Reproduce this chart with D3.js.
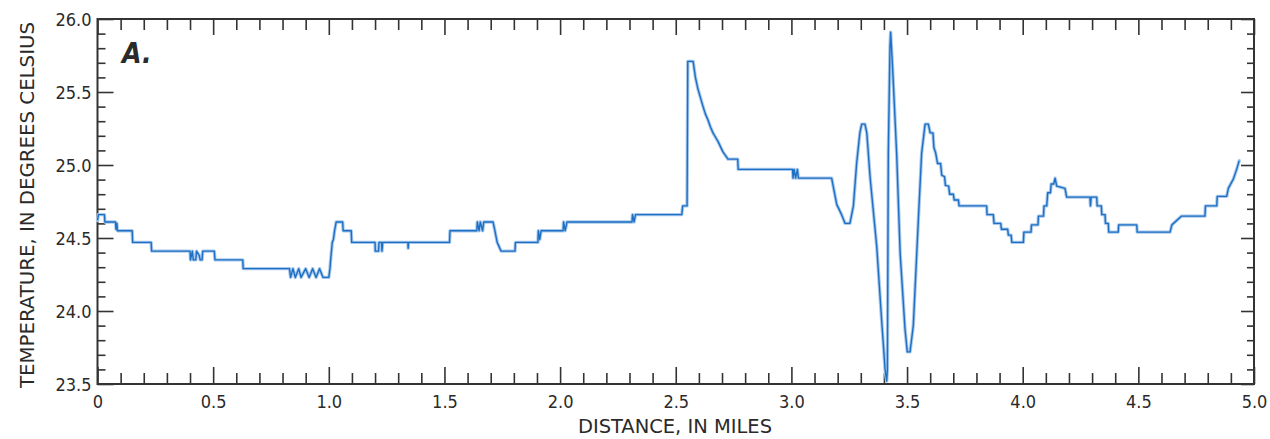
<!DOCTYPE html>
<html>
<head>
<meta charset="utf-8">
<script src="https://cdn.jsdelivr.net/npm/d3@7"></script>
<style>
  html, body { margin: 0; padding: 0; background: #fff; }
  svg { display: block; }
</style>
</head>
<body>
<svg id="chart" width="1270" height="439"></svg>
<script>
// ---- data ----
const distance = [
  0.000, 0.004, 0.030, 0.032, 0.078, 0.080, 0.084, 0.086, 0.150, 0.152,
  0.232, 0.234, 0.400, 0.402, 0.410, 0.414, 0.425, 0.428, 0.440, 0.444,
  0.452, 0.455, 0.505, 0.508, 0.628, 0.630, 0.830, 0.835, 0.845, 0.855,
  0.870, 0.880, 0.900, 0.915, 0.930, 0.945, 0.960, 0.975, 1.000, 1.005,
  1.008, 1.015, 1.020, 1.025, 1.032, 1.060, 1.062, 1.097, 1.099, 1.200,
  1.201, 1.215, 1.217, 1.228, 1.230, 1.233, 1.342, 1.343, 1.345, 1.522,
  1.524, 1.640, 1.642, 1.650, 1.655, 1.665, 1.670, 1.710, 1.718, 1.728,
  1.745, 1.805, 1.807, 1.904, 1.906, 1.912, 1.918, 2.013, 2.015, 2.022,
  2.030, 2.311, 2.313, 2.320, 2.326, 2.526, 2.530, 2.549, 2.552, 2.575,
  2.585, 2.596, 2.607, 2.618, 2.628, 2.639, 2.650, 2.661, 2.672, 2.683,
  2.704, 2.726, 2.768, 2.770, 3.005, 3.007, 3.012, 3.018, 3.026, 3.030,
  3.174, 3.180, 3.196, 3.217, 3.232, 3.253, 3.268, 3.282, 3.296, 3.304,
  3.318, 3.326, 3.340, 3.369, 3.390, 3.405, 3.412, 3.415, 3.419, 3.426,
  3.429, 3.438, 3.455, 3.470, 3.491, 3.501, 3.513, 3.527, 3.549, 3.563,
  3.578, 3.592, 3.600, 3.612, 3.616, 3.624, 3.632, 3.645, 3.650, 3.662,
  3.666, 3.680, 3.684, 3.700, 3.704, 3.722, 3.725, 3.844, 3.846, 3.873,
  3.876, 3.905, 3.908, 3.935, 3.938, 3.950, 3.953, 4.003, 4.005, 4.036,
  4.038, 4.066, 4.068, 4.090, 4.092, 4.104, 4.108, 4.120, 4.123, 4.134,
  4.140, 4.147, 4.183, 4.190, 4.291, 4.293, 4.296, 4.320, 4.322, 4.340,
  4.342, 4.356, 4.358, 4.370, 4.372, 4.413, 4.415, 4.493, 4.495, 4.637,
  4.645, 4.687, 4.788, 4.790, 4.839, 4.841, 4.882, 4.889, 4.911, 4.925,
  4.936
];
const temperature = [
  24.62, 24.66, 24.66, 24.61, 24.61, 24.56, 24.60, 24.55, 24.55, 24.47,
  24.47, 24.41, 24.41, 24.35, 24.41, 24.35, 24.35, 24.41, 24.38, 24.35,
  24.35, 24.41, 24.41, 24.35, 24.35, 24.29, 24.29, 24.23, 24.29, 24.23,
  24.29, 24.23, 24.29, 24.23, 24.29, 24.23, 24.29, 24.23, 24.23, 24.29,
  24.35, 24.47, 24.49, 24.55, 24.61, 24.61, 24.55, 24.55, 24.47, 24.47,
  24.41, 24.41, 24.47, 24.47, 24.41, 24.47, 24.47, 24.43, 24.47, 24.47,
  24.55, 24.55, 24.61, 24.55, 24.61, 24.55, 24.61, 24.61, 24.55, 24.47,
  24.41, 24.41, 24.47, 24.47, 24.55, 24.49, 24.55, 24.55, 24.61, 24.55,
  24.61, 24.61, 24.66, 24.61, 24.66, 24.66, 24.72, 24.72, 25.71, 25.71,
  25.60, 25.52, 25.46, 25.40, 25.35, 25.31, 25.26, 25.22, 25.19, 25.16,
  25.09, 25.04, 25.04, 24.97, 24.97, 24.91, 24.97, 24.91, 24.97, 24.91,
  24.91, 24.86, 24.73, 24.66, 24.60, 24.60, 24.72, 25.01, 25.22, 25.28,
  25.28, 25.22, 24.92, 24.44, 23.94, 23.60, 23.52, 23.60, 25.08, 25.80,
  25.91, 25.65, 25.08, 24.40, 23.88, 23.72, 23.72, 23.90, 24.63, 25.08,
  25.28, 25.28, 25.22, 25.22, 25.12, 25.08, 25.01, 25.01, 24.93, 24.92,
  24.86, 24.855, 24.80, 24.80, 24.76, 24.76, 24.72, 24.72, 24.66, 24.66,
  24.60, 24.60, 24.56, 24.56, 24.52, 24.52, 24.47, 24.47, 24.54, 24.54,
  24.59, 24.59, 24.65, 24.65, 24.72, 24.72, 24.81, 24.81, 24.87, 24.87,
  24.91, 24.855, 24.84, 24.78, 24.78, 24.72, 24.78, 24.78, 24.72, 24.72,
  24.66, 24.66, 24.60, 24.60, 24.54, 24.54, 24.59, 24.59, 24.54, 24.54,
  24.59, 24.65, 24.65, 24.72, 24.72, 24.785, 24.785, 24.84, 24.905, 24.97,
  25.03
];
const xTickLabels = ["0", "0.5", "1.0", "1.5", "2.0", "2.5", "3.0", "3.5", "4.0", "4.5", "5.0"];
const yTickLabels = ["23.5", "24.0", "24.5", "25.0", "25.5", "26.0"];
const xTitle = "DISTANCE, IN MILES";
const yTitle = "TEMPERATURE, IN DEGREES CELSIUS";
const panelLabel = "A.";

// ---- layout ----
const svg = d3.select("#chart");
const L = 97.5, R = 1254, T = 19, B = 384;
const x = d3.scaleLinear().domain([0, 5]).range([L, R]);
const y = d3.scaleLinear().domain([23.5, 26]).range([B, T]);

const axisColor = "#333";
const tickFont = "'DejaVu Sans Condensed', 'Liberation Sans Narrow', sans-serif";

const xMajor = xTickLabels.map(Number);
const yMajor = yTickLabels.map(Number);
const xMinor = d3.range(0, 51).map(i => i / 10).filter(v => !xMajor.some(m => Math.abs(m - v) < 1e-6));
const yMinor = d3.range(235, 261).map(i => i / 10).filter(v => !yMajor.some(m => Math.abs(m - v) < 1e-6));

function styleAxis(g) {
  g.select(".domain").remove();
  g.selectAll(".tick line").attr("stroke", axisColor).attr("stroke-width", 1.6);
}

// bottom axis: minor ticks, major ticks with labels
svg.append("g").attr("transform", `translate(0,${B})`)
  .call(d3.axisBottom(x).tickValues(xMinor).tickSize(-11).tickFormat(""))
  .call(styleAxis);
const xAx = svg.append("g").attr("transform", `translate(0,${B})`)
  .call(d3.axisBottom(x).tickValues(xMajor).tickSize(-17).tickPadding(0)
    .tickFormat((d, i) => xTickLabels[i]))
  .call(styleAxis);
xAx.selectAll(".tick text")
  .attr("y", 24).attr("dy", null)
  .attr("font-family", tickFont).attr("font-size", 18).attr("fill", "#2a2a2a");

// top axis
svg.append("g").attr("transform", `translate(0,${T})`)
  .call(d3.axisTop(x).tickValues(xMinor).tickSize(-11).tickFormat(""))
  .call(styleAxis);
svg.append("g").attr("transform", `translate(0,${T})`)
  .call(d3.axisTop(x).tickValues(xMajor).tickSize(-16).tickFormat(""))
  .call(styleAxis);

// left axis
svg.append("g").attr("transform", `translate(${L},0)`)
  .call(d3.axisLeft(y).tickValues(yMinor).tickSize(-8).tickFormat(""))
  .call(styleAxis);
const yAx = svg.append("g").attr("transform", `translate(${L},0)`)
  .call(d3.axisLeft(y).tickValues(yMajor).tickSize(-16)
    .tickFormat((d, i) => yTickLabels[i]))
  .call(styleAxis);
yAx.selectAll(".tick text")
  .attr("x", -6).attr("dy", "0.36em")
  .attr("font-family", tickFont).attr("font-size", 18).attr("fill", "#2a2a2a");

// right axis
svg.append("g").attr("transform", `translate(${R},0)`)
  .call(d3.axisRight(y).tickValues(yMinor).tickSize(-7).tickFormat(""))
  .call(styleAxis);
svg.append("g").attr("transform", `translate(${R},0)`)
  .call(d3.axisRight(y).tickValues(yMajor).tickSize(-13).tickFormat(""))
  .call(styleAxis);

// frame
svg.append("rect")
  .attr("x", L).attr("y", T).attr("width", R - L).attr("height", B - T)
  .attr("fill", "none").attr("stroke", axisColor).attr("stroke-width", 2);

// ---- data line ----
const pts = distance.map((d, i) => [d, temperature[i]]);
const line = d3.line().x(d => x(d[0])).y(d => y(d[1]));
svg.append("path").datum(pts)
  .attr("d", line)
  .attr("fill", "none").attr("stroke", "#a9c9ec").attr("stroke-width", 3.4)
  .attr("stroke-linejoin", "round").attr("stroke-linecap", "round");
svg.append("path").datum(pts)
  .attr("d", line)
  .attr("fill", "none").attr("stroke", "#1d6fc4").attr("stroke-width", 1.4)
  .attr("stroke-linejoin", "round");

// ---- titles ----
svg.append("text")
  .attr("x", 675).attr("y", 433)
  .attr("text-anchor", "middle")
  .attr("font-family", tickFont).attr("font-size", 19).attr("fill", "#2a2a2a")
  .attr("textLength", 194).attr("lengthAdjust", "spacingAndGlyphs")
  .text(xTitle);

svg.append("text")
  .attr("transform", "translate(34,205) rotate(-90)")
  .attr("text-anchor", "middle")
  .attr("font-family", tickFont).attr("font-size", 20).attr("fill", "#2a2a2a")
  .attr("textLength", 366).attr("lengthAdjust", "spacingAndGlyphs")
  .text(yTitle);

svg.append("text")
  .attr("x", 122).attr("y", 63)
  .attr("font-family", "'Liberation Sans Narrow', 'DejaVu Sans Condensed', sans-serif")
  .attr("font-weight", "bold").attr("font-style", "italic")
  .attr("font-size", 28).attr("fill", "#2a2a2a")
  .text(panelLabel);
</script>
</body>
</html>
